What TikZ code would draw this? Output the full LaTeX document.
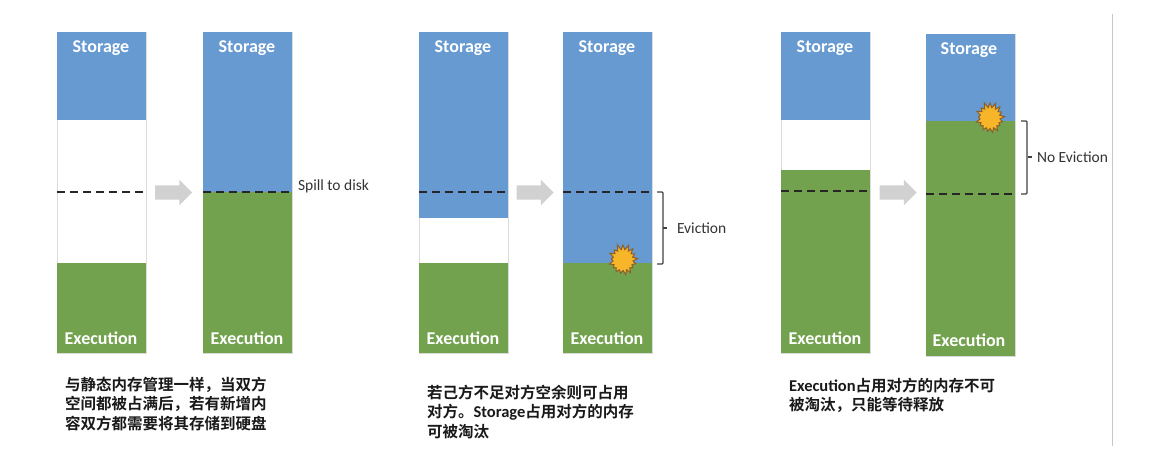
\documentclass[tikz,border=0pt]{standalone}
\usepackage{fontspec}
\setmainfont{Carlito}
\newfontfamily\cjk{Noto Sans CJK SC}[BoldFont={Noto Sans CJK SC Bold}]
\newcommand{\capword}[1]{{\rmfamily\bfseries\fontsize{16.5}{19.5}\selectfont #1}}
\usetikzlibrary{positioning,calc,shapes,shapes.arrows,shapes.symbols}

\begin{document}
\begin{tikzpicture}[
    x=1pt, y=-1pt,
    every node/.style={inner sep=0pt, outer sep=0pt},
    frame/.style={draw=black!14, line width=1pt, fill=white, minimum width=89pt, anchor=north west},
    storage/.style={fill=memblue, minimum width=89pt, anchor=north west},
    execution/.style={fill=memgreen, minimum width=89pt, anchor=north west},
    memlabel/.style={text=white, font=\bfseries\fontsize{18}{18}\selectfont},
    note/.style={text=black!80, font=\fontsize{15.5}{15.5}\selectfont},
    caption/.style={anchor=north west, align=left, text=black!90, font=\cjk\bfseries\fontsize{15.5}{19.5}\selectfont},
    moveto/.style={single arrow, fill=black!18, inner ysep=7pt, inner xsep=0pt, minimum height=37pt, single arrow head extend=5.5pt, single arrow tip angle=90},
    burst/.style={starburst, starburst points=17, starburst point height=6pt, random starburst=11, minimum width=32pt, minimum height=33pt, draw=burstedge, line width=1pt, fill=burstfill},
    limit/.style={draw=black!85, dash pattern=on 8pt off 5pt, line width=2.4pt},
    bracket/.style={draw=black!75, line width=1.1pt, rounded corners=1pt}
]
\definecolor{memblue}{RGB}{103,154,209}
\definecolor{memgreen}{RGB}{115,162,78}
\definecolor{burstfill}{RGB}{247,181,41}
\definecolor{burstedge}{RGB}{140,95,40}

% same store, both sides full
\node[frame, minimum height=321pt] (col1) at (57,32) {};
\node[storage, minimum height=88pt] (sto1) at (57,32) {};
\node[execution, minimum height=90pt] (exe1) at (57,263) {};
\node[frame, minimum height=321pt] (col2) at (203,32) {};
\node[storage, minimum height=160pt] (sto2) at (203,32) {};
\node[execution, minimum height=161pt] (exe2) at (203,192) {};
\node[memlabel] (stoa) at (101,48) {Storage};
\node[memlabel] (exea) at (101,338) {Execution};
\node[memlabel] (stob) at (247,48) {Storage};
\node[memlabel] (exeb) at (247,338) {Execution};
\node[moveto] (move1) at (170,192.5) {};
\node[note, anchor=west] (spill) at (298,186) {Spill to disk};
\node[caption] (text1) at (65,377) {与静态内存管理一样，当双方\\空间都被占满后，若有新增内\\容双方都需要将其存储到硬盘};

% storage borrows, eviction
\node[frame, minimum height=321pt] (col3) at (419,32) {};
\node[storage, minimum height=186pt] (sto3) at (419,32) {};
\node[execution, minimum height=90pt] (exe3) at (419,263) {};
\node[frame, minimum height=321pt] (col4) at (563,32) {};
\node[storage, minimum height=231pt] (sto4) at (563,32) {};
\node[execution, minimum height=90pt] (exe4) at (563,263) {};
\node[memlabel] (stoc) at (463,48) {Storage};
\node[memlabel] (exed) at (463,338) {Execution};
\node[memlabel] (stoe) at (607,48) {Storage};
\node[memlabel] (exef) at (607,338) {Execution};
\node[moveto] (move2) at (531.5,192.5) {};
\node[burst] (hit1) at (623,260) {};
\node[note, anchor=west] (evict) at (677,228) {Eviction};
\node[caption] (text2) at (427,385) {若己方不足对方空余则可占用\\对方。\capword{Storage}占用对方的内存\\可被淘汰};

% execution borrows, no eviction
\node[frame, minimum height=321pt] (col5) at (781,32) {};
\node[storage, minimum height=88pt] (sto5) at (781,32) {};
\node[execution, minimum height=183pt] (exe5) at (781,170) {};
\node[frame, minimum height=322pt] (col6) at (926,34) {};
\node[storage, minimum height=87pt] (sto6) at (926,34) {};
\node[execution, minimum height=235pt] (exe6) at (926,121) {};
\node[memlabel] (stog) at (825,48) {Storage};
\node[memlabel] (exeh) at (825,338) {Execution};
\node[memlabel] (stoi) at (969,50) {Storage};
\node[memlabel] (exej) at (969,340) {Execution};
\node[moveto] (move3) at (894.5,192.5) {};
\node[burst] (hit2) at (990,118) {};
\node[note, anchor=west] (noevict) at (1037,157) {No Eviction};
\node[caption] (text3) at (789,378) {\capword{Execution}占用对方的内存不可\\被淘汰，只能等待释放};

% dashed marks and brackets
\coordinate (m1a) at (57,192);  \coordinate (m1b) at (146,192);
\coordinate (m3a) at (419,192); \coordinate (m3b) at (508,192);
\coordinate (m4a) at (563,192); \coordinate (m4b) at (652,192);
\coordinate (m5a) at (781,191); \coordinate (m5b) at (870,191);
\coordinate (m6a) at (926,194); \coordinate (m6b) at (1015,194);
\draw[limit] (m1a) -- (m1b);
\draw[limit] (sto2.south west) -- (sto2.south east);
\draw[limit] (m3a) -- (m3b);
\draw[limit] (m4a) -- (m4b);
\draw[limit] (m5a) -- (m5b);
\draw[limit] (m6a) -- (m6b);

\draw[bracket] ($(m4b)+(5,0)$) -- ++(6,0) -- ++(0,72) -- ++(-6,0);
\draw[bracket] ($(m6b)+(6,0)$) -- ++(6,0) -- ++(0,-73) -- ++(-6,0);
\draw[bracket] ($(evict.west)+(-14,0)$) -- ($(evict.west)+(-10,0)$);
\draw[bracket] ($(noevict.west)+(-9,0)$) -- ($(noevict.west)+(-5,0)$);

\coordinate (edgetop) at (1112,14);
\coordinate (edgeend) at (1112,446);
\draw[draw=black!22, line width=1pt] (edgetop) -- (edgeend);

\useasboundingbox (0,0) rectangle (1152,456);
\end{tikzpicture}
\end{document}
